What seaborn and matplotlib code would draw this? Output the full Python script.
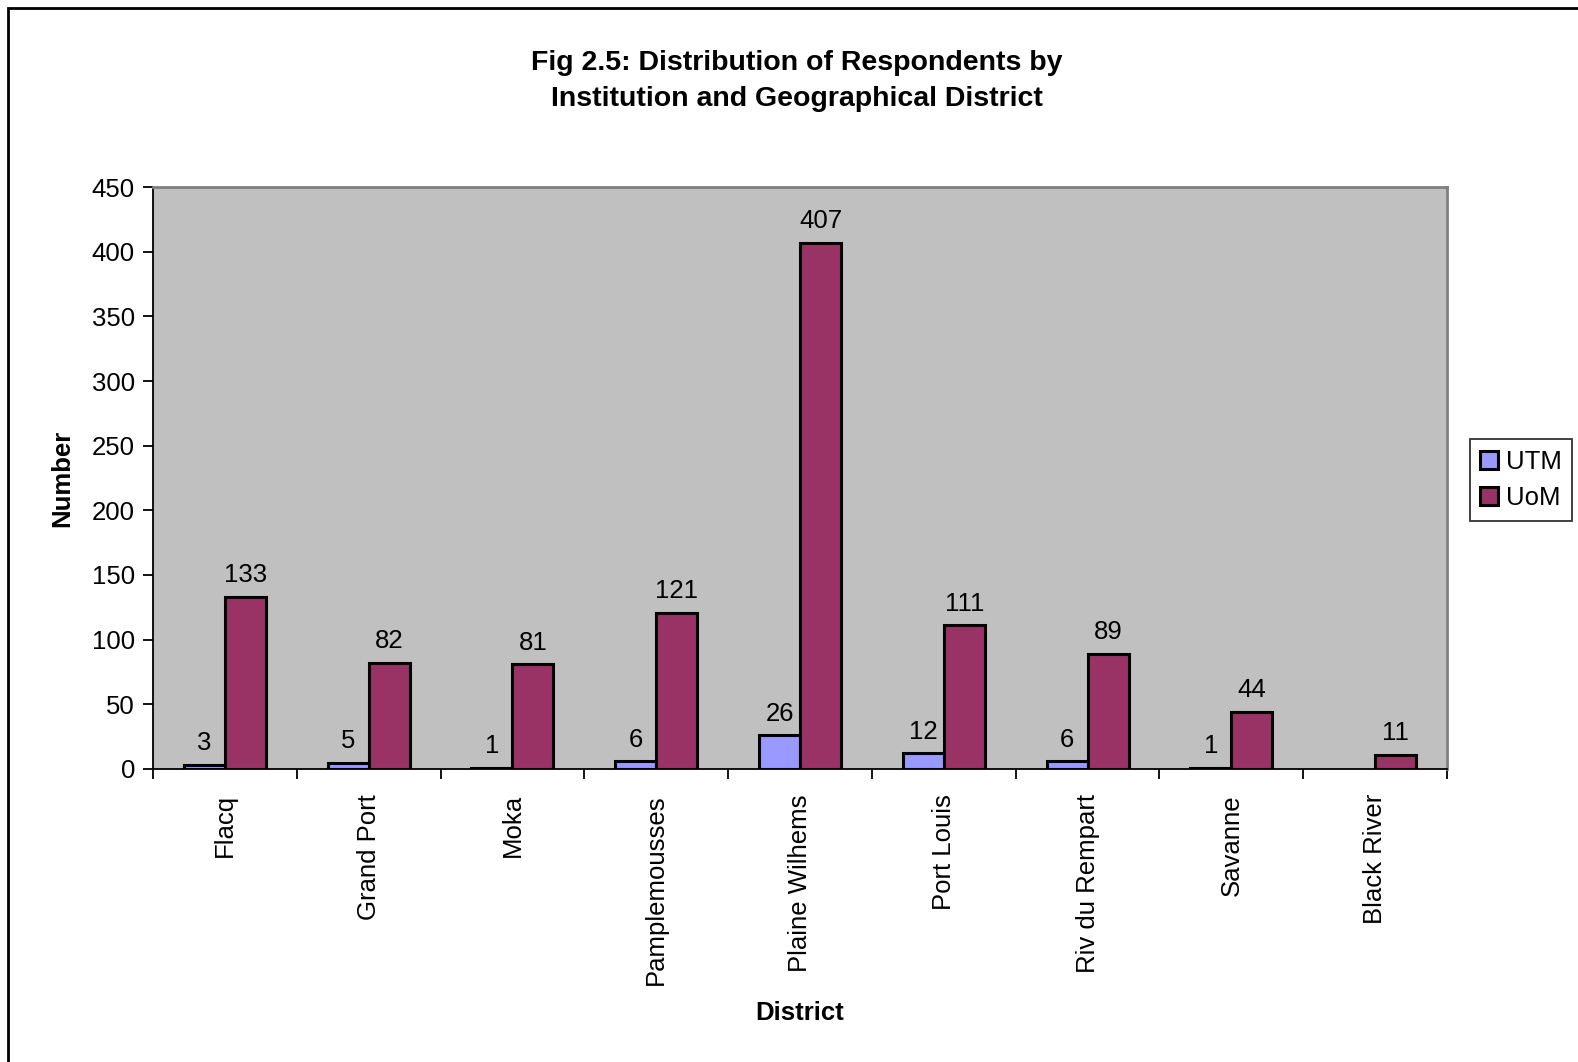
import numpy as np
import pandas as pd
import matplotlib
matplotlib.use("Agg")
import matplotlib.pyplot as plt
import seaborn as sns
from matplotlib.patches import Rectangle, Patch

districts = ["Flacq", "Grand Port", "Moka", "Pamplemousses", "Plaine Wilhems",
             "Port Louis", "Riv du Rempart", "Savanne", "Black River"]
utm = [3, 5, 1, 6, 26, 12, 6, 1, np.nan]
uom = [133, 82, 81, 121, 407, 111, 89, 44, 11]
series = ["UTM", "UoM"]
colors = {"UTM": "#9999FF", "UoM": "#993366"}

df = pd.DataFrame({
    "District": districts * 2,
    "Institution": ["UTM"] * len(districts) + ["UoM"] * len(districts),
    "Number": utm + uom,
})

sns.set_theme(style="white")
plt.rcParams["font.family"] = ["Liberation Sans", "DejaVu Sans"]
plt.rcParams.update({"text.color": "black", "axes.labelcolor": "black",
                     "xtick.color": "black", "ytick.color": "black"})

FS = 18.5

fig = plt.figure(figsize=(15.78, 10.62), dpi=100)
ax = fig.add_axes([153 / 1578, 1 - 769 / 1062, (1447 - 153) / 1578, (769 - 187) / 1062])
ax.set_facecolor("#C0C0C0")

sns.barplot(data=df, x="District", y="Number", hue="Institution",
            hue_order=series, palette=colors, width=0.57, gap=0,
            edgecolor="black", linewidth=2.2, saturation=1, ax=ax, legend=False)

for cont in ax.containers:
    labels = ["" if np.isnan(v) else f"{v:g}" for v in cont.datavalues]
    ax.bar_label(cont, labels=labels, padding=7, fontsize=FS, color="black")

ax.set_ylim(0, 450)
ax.set_yticks(np.arange(0, 451, 50))
ax.set_xlim(-0.5, len(districts) - 0.5)
ax.set_xticks(np.arange(-0.5, len(districts), 1.0), minor=False)
ax.set_xticklabels([])
ax.set_xticks(np.arange(len(districts)), minor=True)
ax.set_xticklabels(districts, minor=True, rotation=90, fontsize=FS, va="top", ha="center")
ax.tick_params(axis="x", which="major", direction="out", length=7, width=1.3, color="black", bottom=True)
ax.tick_params(axis="x", which="minor", length=0, pad=18)
ax.tick_params(axis="y", direction="out", length=7, width=1.3, color="black", left=True, labelsize=FS, pad=6)

for side in ["top", "right"]:
    ax.spines[side].set_visible(True)
    ax.spines[side].set_color("#808080")
    ax.spines[side].set_linewidth(2)
for side in ["left", "bottom"]:
    ax.spines[side].set_color("black")
    ax.spines[side].set_linewidth(1.3)

ax.set_xlabel("District", fontsize=FS, fontweight="bold")
ax.set_ylabel("Number", fontsize=FS, fontweight="bold")
ax.xaxis.set_label_coords(0.5, -(1013 - 769) / (769 - 187))
ax.yaxis.set_label_coords(-(153 - 62) / (1447 - 153), 0.5)
ax.xaxis.label.set_va("center")
ax.yaxis.label.set_va("center")

fig.text(797 / 1578, 1 - 81 / 1062,
         "Fig 2.5: Distribution of Respondents by\nInstitution and Geographical District",
         ha="center", va="center", fontsize=20.5, fontweight="bold", linespacing=1.52)

handles = [Patch(facecolor=colors[s], edgecolor="black", linewidth=2.2) for s in series]
leg = fig.legend(handles, series, loc="center left",
                 bbox_to_anchor=(1470 / 1578, 1 - 480 / 1062), fontsize=FS,
                 frameon=True, fancybox=False, handlelength=0.7, handleheight=0.7,
                 handletextpad=0.3, borderpad=0.4, labelspacing=0.5, borderaxespad=0)
leg.get_frame().set_edgecolor("black")
leg.get_frame().set_linewidth(1.3)

fig.patches.append(Rectangle((8 / 1578, -0.05), 1.1, 1 - 8 / 1062 + 0.05,
                             transform=fig.transFigure, fill=False,
                             edgecolor="black", linewidth=2))

fig.savefig("out.png", dpi=100, facecolor="white")
